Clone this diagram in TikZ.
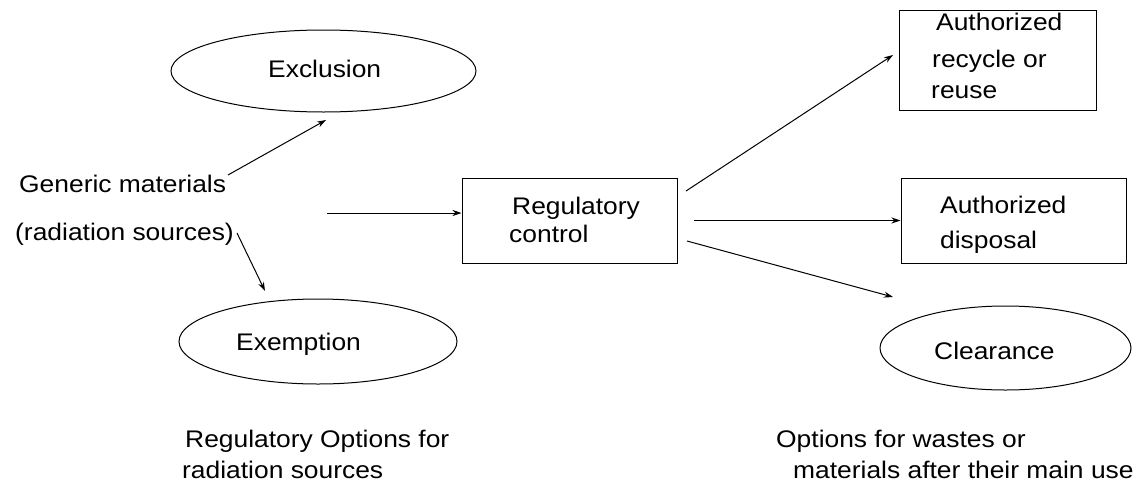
\documentclass[tikz,border=0pt]{standalone}
\usepackage{fontspec}
\setmainfont{Liberation Sans}[FakeStretch=1.1]
\usetikzlibrary{shapes.geometric,arrows.meta}
\begin{document}
\begin{tikzpicture}[x=1pt,y=-1pt,
  txt/.style={inner sep=0pt,anchor=base west,font=\fontsize{24}{29}\selectfont},
  boxnode/.style={draw,line width=1pt,rectangle,inner sep=0pt},
  ovalnode/.style={draw,line width=1pt,ellipse,inner sep=0pt},
  arr/.style={-{Stealth[length=9pt,width=6pt]},line width=1pt}]
\useasboundingbox (0,0) rectangle (1133,485);

% shapes
\node[ovalnode,minimum width=305pt,minimum height=82pt] (excl) at (323.5,71) {};
\node[ovalnode,minimum width=278pt,minimum height=85pt] (exem) at (318,341.5) {};
\node[ovalnode,minimum width=251pt,minimum height=84pt] (clear) at (1005.5,348) {};
\node[boxnode,minimum width=215pt,minimum height=85pt] (reg) at (569.5,220.5) {};
\node[boxnode,minimum width=197pt,minimum height=100pt] (recyc) at (997.5,60) {};
\node[boxnode,minimum width=225pt,minimum height=85pt] (disp) at (1013.5,220.5) {};

% texts
\node[txt] (tExcl) at (268,77) {Exclusion};
\node[txt] (tExem) at (236,350) {Exemption};
\node[txt] (tClear) at (934,359) {Clearance};
\node[txt] (tGen) at (19,192) {Generic materials};
\node[txt] (tSrc) at (15,240) {(radiation sources)};
\node[txt] (tReg1) at (512,214) {Regulatory};
\node[txt] (tReg2) at (509,242) {control};
\node[txt] (tRec1) at (936,30) {Authorized};
\node[txt] (tRec2) at (932,67) {recycle or};
\node[txt] (tRec3) at (931,98) {reuse};
\node[txt] (tDis1) at (940,213) {Authorized};
\node[txt] (tDis2) at (940,248) {disposal};
\node[txt] (tCapL1) at (185,447) {Regulatory Options for};
\node[txt] (tCapL2) at (182,478) {radiation sources};
\node[txt] (tCapR1) at (776,447) {Options for wastes or};
\node[txt] (tCapR2) at (793,478) {materials after their main use};

% free ends of the connectors
\coordinate (g1) at (228,175);
\coordinate (g1e) at (326,120);
\coordinate (g2) at (237,233);
\coordinate (g2e) at (265,291);
\coordinate (h0) at (327,213);
\coordinate (r1) at (686,191);
\coordinate (r1e) at (893,55);
\coordinate (r2) at (694,220.5);
\coordinate (r3) at (687,241);
\coordinate (r3e) at (893,297);

% connectors
\draw[arr] (g1) -- (g1e);
\draw[arr] (g2) -- (g2e);
\draw[arr] (h0) -- (reg.west |- h0);
\draw[arr] (r1) -- (r1e);
\draw[arr] (r2) -- (disp.west);
\draw[arr] (r3) -- (r3e);
\end{tikzpicture}
\end{document}
